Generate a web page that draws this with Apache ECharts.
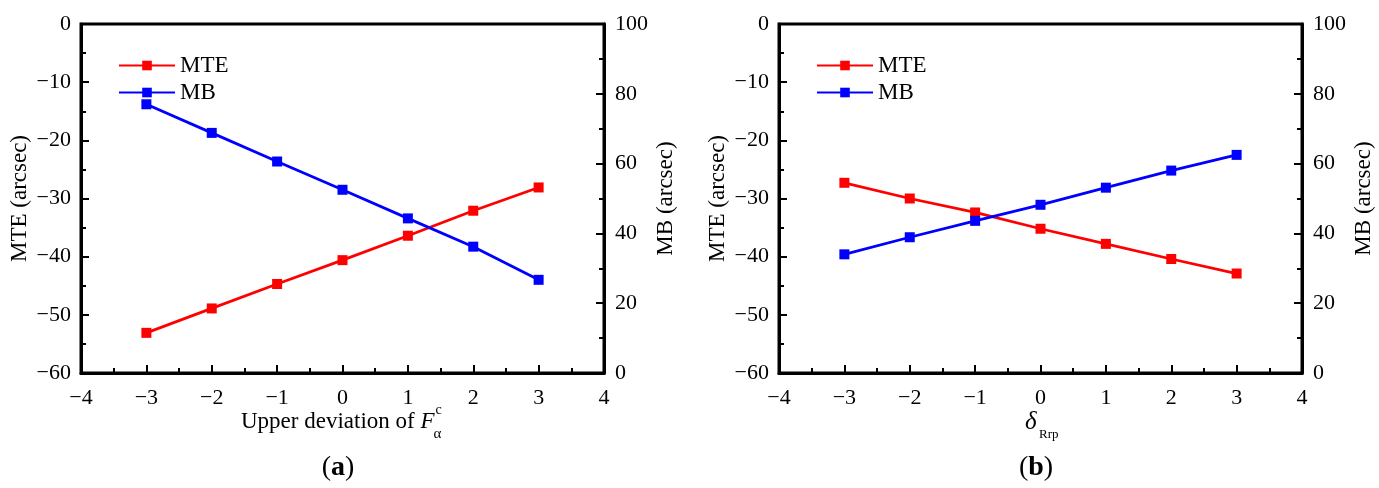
<!DOCTYPE html>
<html>
<head>
<meta charset="utf-8">
<script src="https://cdn.jsdelivr.net/npm/echarts@6/dist/echarts.min.js"></script>
<style>
  html, body { margin: 0; padding: 0; background: #fff; }
  #chart { width: 1379px; height: 488px; }
</style>
</head>
<body>
<div id="chart"></div>
<script>
// deviation steps on the x axis
const xSteps = [-3, -2, -1, 0, 1, 2, 3];

// panel (a): upper deviation of F_alpha^c
const mteA = [-53.1, -48.9, -44.7, -40.6, -36.4, -32.1, -28.1];
const mbA = [77.0, 68.8, 60.6, 52.5, 44.3, 36.2, 26.7];

// panel (b): delta_Rrp
const mteB = [-27.3, -30.0, -32.4, -35.2, -37.8, -40.4, -42.9];
const mbB = [34.0, 38.9, 43.6, 48.2, 53.1, 58.0, 62.5];

const FONT = 'Liberation Serif';
const minus = v => String(v).replace('-', '\u2212');
const pairs = arr => xSteps.map((x, i) => [x, arr[i]]);

const axisLine = { show: true, onZero: false, lineStyle: { color: '#000', width: 3 } };
const tick = { show: true, inside: true, length: 8, lineStyle: { color: '#000', width: 2 } };
const minor = { show: true, splitNumber: 2, length: 5, lineStyle: { color: '#000', width: 2 } };
const label = { color: '#000', fontFamily: FONT, fontSize: 22, formatter: minus };
const nameStyle = { color: '#000', fontFamily: FONT, fontSize: 23 };

function xAxisFor(grid) {
    return {
        type: 'value', gridIndex: grid, min: -4, max: 4, interval: 1,
        axisLine: axisLine, axisTick: tick, minorTick: minor,
        axisLabel: Object.assign({ margin: 14 }, label),
        splitLine: { show: false }
    };
}

function yLeft(grid) {
    return {
        type: 'value', gridIndex: grid, position: 'left', min: -60, max: 0, interval: 10,
        name: 'MTE (arcsec)', nameLocation: 'middle', nameGap: 50, nameRotate: 90,
        nameTextStyle: nameStyle,
        axisLine: axisLine, axisTick: tick, minorTick: minor,
        axisLabel: Object.assign({ margin: 10 }, label),
        splitLine: { show: false }
    };
}

function yRight(grid) {
    return {
        type: 'value', gridIndex: grid, position: 'right', min: 0, max: 100, interval: 20,
        name: 'MB (arcsec)', nameLocation: 'middle', nameGap: 50, nameRotate: 90,
        nameTextStyle: nameStyle,
        axisLine: axisLine, axisTick: tick, minorTick: minor,
        axisLabel: Object.assign({ margin: 11 }, label),
        splitLine: { show: false }
    };
}

function lineSeries(name, color, xi, yi, data) {
    return {
        name: name, type: 'line', xAxisIndex: xi, yAxisIndex: yi,
        data: pairs(data),
        symbol: 'rect', symbolSize: 10,
        lineStyle: { color: color, width: 2.8 },
        itemStyle: { color: color },
        animation: false
    };
}

function legendFor(left) {
    return {
        data: ['MTE', 'MB'], orient: 'vertical', left: left, top: 49,
        itemWidth: 56, itemHeight: 12, itemGap: 4,
        textStyle: { color: '#000', fontFamily: FONT, fontSize: 23 }
    };
}

// place the super/subscript right after the italic F
const ctx = document.createElement('canvas').getContext('2d');
ctx.font = '23px "Liberation Serif"';
const titleStart = 241;
const wText = ctx.measureText('Upper deviation of ').width;
ctx.font = 'italic 23px "Liberation Serif"';
const wF = ctx.measureText('F').width;
const scriptX = titleStart + wText + wF + 1;

const chart = echarts.init(document.getElementById('chart'));
chart.setOption({
    backgroundColor: '#fff',
    animation: false,
    grid: [
        { left: 81, top: 24, width: 523, height: 349, show: true, borderColor: '#000', borderWidth: 3 },
        { left: 779, top: 24, width: 523, height: 349, show: true, borderColor: '#000', borderWidth: 3 }
    ],
    legend: [legendFor(113), legendFor(811)],
    xAxis: [xAxisFor(0), xAxisFor(1)],
    yAxis: [yLeft(0), yRight(0), yLeft(1), yRight(1)],
    series: [
        lineSeries('MTE', '#ff0000', 0, 0, mteA),
        lineSeries('MB', '#0000ff', 0, 1, mbA),
        lineSeries('MTE', '#ff0000', 1, 2, mteB),
        lineSeries('MB', '#0000ff', 1, 3, mbB)
    ],
    graphic: [
        {
            type: 'text', x: titleStart, y: 422,
            style: {
                text: '{n|Upper deviation of }{f|F}',
                textVerticalAlign: 'middle',
                rich: {
                    n: { fontFamily: FONT, fontSize: 23, fill: '#000' },
                    f: { fontFamily: FONT, fontSize: 23, fontStyle: 'italic', fill: '#000' }
                }
            }
        },
        { type: 'text', x: scriptX, y: 410, style: { text: 'c', font: '14px "Liberation Serif"', fill: '#000', textVerticalAlign: 'middle' } },
        { type: 'text', x: scriptX - 2, y: 434, style: { text: '\u03b1', font: '15px "Liberation Serif"', fill: '#000', textVerticalAlign: 'middle' } },
        { type: 'text', x: 1025, y: 422, style: { text: '\u03b4', font: 'italic 25px "Liberation Serif"', fill: '#000', textVerticalAlign: 'middle' } },
        { type: 'text', x: 1039, y: 435, style: { text: 'Rrp', font: '13px "Liberation Serif"', fill: '#000', textVerticalAlign: 'middle' } },
        {
            type: 'text', x: 338, y: 468,
            style: {
                text: '{p|(}{b|a}{p|)}', textAlign: 'center', textVerticalAlign: 'middle',
                rich: {
                    p: { fontFamily: FONT, fontSize: 28, fill: '#000' },
                    b: { fontFamily: FONT, fontSize: 28, fontWeight: 'bold', fill: '#000' }
                }
            }
        },
        {
            type: 'text', x: 1036, y: 468,
            style: {
                text: '{p|(}{b|b}{p|)}', textAlign: 'center', textVerticalAlign: 'middle',
                rich: {
                    p: { fontFamily: FONT, fontSize: 28, fill: '#000' },
                    b: { fontFamily: FONT, fontSize: 28, fontWeight: 'bold', fill: '#000' }
                }
            }
        }
    ]
});
</script>
</body>
</html>
